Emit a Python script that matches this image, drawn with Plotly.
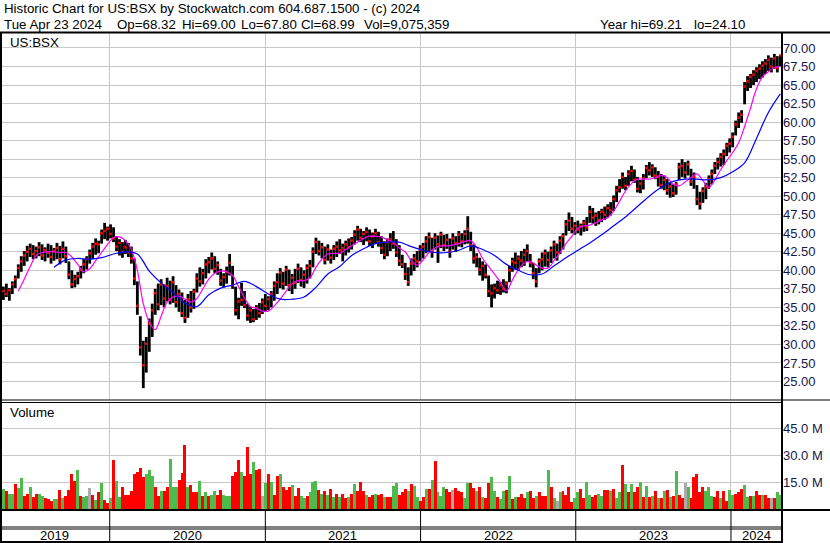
import pandas as pd
import plotly.graph_objects as go

# ---------------- data (weekly) ----------------
high = [
    37.5, 37.8, 38.2, 37.6, 38.5, 39.3, 40.8, 41.9, 42.6, 43.3,
    43.6, 43.4, 43.2, 43.8, 43.5, 43.1, 43.6, 43.4, 43.0, 43.7,
    43.3, 43.9, 43.2, 41.2, 40.0, 39.4, 39.8, 40.6, 41.5, 41.9,
    42.8, 43.7, 44.3, 44.0, 45.5, 46.4, 45.9, 46.2, 45.8, 44.6,
    44.2, 43.8, 44.1, 43.7, 43.2, 41.6, 38.5, 33.8, 30.5, 31.0,
    33.5, 35.5, 37.5, 38.2, 38.8, 38.1, 39.0, 38.6, 39.2, 38.0,
    37.4, 37.0, 36.0, 36.8, 37.2, 37.5, 39.6, 40.4, 40.2, 41.5,
    41.8, 42.4, 41.9, 41.2, 40.2, 39.6, 40.5, 42.2, 40.6, 37.8,
    36.3, 38.3, 37.2, 35.5, 35.1, 34.8, 35.3, 35.6, 36.2, 36.8,
    36.5, 37.2, 38.5, 39.6, 40.3, 39.8, 40.6, 40.1, 39.5, 40.2,
    40.9, 40.4, 40.0, 40.8, 41.4, 43.1, 44.4, 44.0, 43.7, 43.2,
    43.5, 42.8, 43.4, 43.9, 44.2, 43.6, 44.0, 44.3, 44.5, 45.4,
    46.0, 45.6, 45.3, 45.8, 45.5, 45.1, 45.6, 45.2, 44.6, 43.9,
    44.3, 45.0, 45.3, 44.2, 43.4, 42.1, 41.0, 40.4, 41.6, 42.2,
    42.6, 43.4, 43.7, 44.6, 45.1, 44.4, 45.0, 44.7, 45.2, 44.8,
    44.9, 44.3, 45.0, 44.6, 45.3, 45.0, 45.4, 47.3, 45.2, 43.5,
    42.3, 41.7, 41.2, 40.8, 39.3, 38.1, 38.2, 38.6, 38.4, 38.8,
    38.5, 40.6, 41.7, 42.4, 42.0, 42.6, 42.9, 43.5, 42.2, 41.0,
    40.3, 41.6, 42.4, 42.8, 42.5, 43.2, 44.0, 43.6, 44.6, 45.0,
    46.8, 47.8, 47.2, 46.5, 46.7, 46.3, 46.8, 47.2, 48.7, 48.4,
    47.8, 48.0, 48.3, 48.6, 48.9, 49.2, 50.1, 51.4, 52.3, 53.2,
    52.6, 53.5, 54.1, 53.6, 52.6, 52.2, 53.0, 54.2, 54.6, 54.3,
    53.9, 53.4, 53.0, 52.8, 52.3, 51.8, 51.6, 51.9, 54.5, 55.0,
    54.6, 54.8, 53.7, 53.2, 51.5, 50.6, 51.2, 51.8, 52.8, 53.6,
    54.6, 55.2, 55.8, 56.3, 57.2, 57.8, 58.6, 60.2, 61.3, 61.6,
    65.4, 66.2, 66.5, 67.0, 67.4, 67.8, 68.2, 68.5, 69.0, 68.7,
    69.2, 68.9, 69.0,
]
low = [
    35.3, 36.0, 36.4, 35.9, 36.8, 37.6, 38.9, 39.8, 40.6, 41.2,
    41.8, 41.5, 41.6, 41.9, 41.4, 41.2, 41.7, 40.9, 41.3, 41.5,
    40.8, 41.6, 41.0, 38.8, 37.6, 37.7, 38.1, 38.9, 39.6, 40.1,
    40.9, 41.5, 42.1, 42.3, 43.6, 44.2, 44.0, 44.3, 43.8, 42.6,
    42.0, 41.7, 42.2, 41.8, 40.9, 38.0, 34.0, 28.5, 24.1, 26.2,
    29.0, 31.0, 34.0, 34.6, 35.3, 35.0, 35.8, 35.4, 35.6, 35.0,
    34.4, 33.7, 32.9, 33.6, 34.3, 34.8, 37.0, 37.8, 38.1, 38.9,
    39.6, 40.1, 39.6, 39.4, 37.9, 37.7, 38.2, 39.3, 37.5, 33.9,
    33.4, 35.2, 34.9, 33.2, 32.9, 33.0, 33.3, 33.6, 34.1, 34.5,
    34.6, 35.0, 35.9, 36.8, 37.6, 37.4, 37.9, 37.2, 36.8, 37.5,
    38.3, 37.8, 37.6, 38.2, 38.9, 40.4, 42.2, 42.0, 41.6, 40.8,
    41.3, 40.9, 41.4, 41.8, 42.2, 41.2, 42.0, 42.4, 42.8, 43.5,
    44.0, 43.8, 43.4, 43.9, 43.3, 43.0, 43.6, 43.2, 42.2, 41.5,
    41.9, 42.6, 42.9, 41.8, 40.6, 40.3, 38.7, 37.9, 39.3, 39.9,
    40.4, 41.2, 41.6, 42.3, 42.6, 41.7, 42.8, 41.0, 43.0, 42.6,
    42.9, 41.7, 42.8, 42.5, 43.2, 43.1, 43.5, 43.6, 42.6, 40.9,
    40.4, 39.3, 38.6, 38.9, 36.4, 35.0, 36.2, 36.8, 36.7, 37.0,
    36.9, 38.4, 39.8, 40.1, 40.0, 40.4, 40.6, 41.2, 40.4, 38.8,
    37.7, 39.6, 40.0, 40.5, 40.4, 41.0, 41.6, 41.3, 42.2, 42.8,
    44.7, 45.3, 45.0, 44.8, 45.0, 44.7, 45.2, 45.3, 46.4, 46.3,
    46.0, 46.2, 46.5, 46.8, 47.1, 47.4, 48.0, 49.2, 50.5, 51.0,
    50.8, 51.4, 52.0, 51.8, 50.5, 50.4, 50.9, 52.4, 52.8, 52.6,
    52.3, 51.3, 51.0, 50.8, 50.2, 49.8, 49.9, 50.2, 52.2, 52.6,
    52.4, 52.8, 51.4, 51.0, 48.8, 48.2, 49.1, 49.6, 51.0, 51.6,
    53.0, 53.6, 54.0, 54.2, 55.4, 55.9, 56.6, 58.2, 59.2, 59.9,
    62.4, 64.2, 64.6, 65.0, 65.4, 65.8, 66.0, 66.5, 66.9, 66.7,
    67.2, 66.7, 67.5,
]
close = [
    36.4, 37.2, 36.8, 37.3, 38.1, 38.8, 40.3, 41.2, 42.0, 42.5,
    42.9, 42.2, 42.6, 43.1, 42.0, 42.7, 42.4, 41.8, 42.6, 43.0,
    41.5, 42.9, 41.9, 39.4, 38.1, 38.8, 39.2, 40.1, 40.8, 41.5,
    42.3, 43.2, 43.6, 43.5, 45.0, 45.3, 45.6, 44.9, 44.3, 43.2,
    43.7, 42.5, 43.1, 42.4, 41.6, 38.9, 35.2, 29.6, 27.2, 30.1,
    32.8, 34.6, 36.9, 35.4, 38.1, 36.2, 37.9, 36.0, 38.4, 35.7,
    36.8, 34.2, 33.6, 36.1, 35.0, 37.1, 38.9, 38.5, 39.6, 40.8,
    41.1, 41.6, 40.2, 40.7, 38.6, 39.1, 39.8, 41.0, 38.0, 34.6,
    35.8, 36.0, 35.3, 33.9, 34.6, 33.4, 34.9, 34.2, 35.7, 35.2,
    36.1, 36.8, 37.9, 38.4, 39.7, 38.2, 40.1, 38.0, 39.0, 38.3,
    40.2, 38.7, 39.4, 40.3, 40.6, 42.5, 43.8, 42.6, 43.1, 41.4,
    42.8, 41.7, 42.9, 43.2, 42.7, 43.0, 43.5, 43.1, 44.0, 44.8,
    45.5, 44.4, 44.9, 45.2, 43.9, 44.6, 45.0, 43.8, 43.0, 42.1,
    43.8, 44.2, 43.6, 42.4, 41.3, 40.8, 39.5, 38.4, 40.9, 41.6,
    41.2, 42.8, 43.2, 43.9, 44.5, 42.6, 44.4, 43.5, 44.8, 43.4,
    44.1, 42.5, 44.3, 43.7, 44.8, 43.9, 44.9, 45.6, 43.4, 41.6,
    41.8, 40.1, 40.6, 39.4, 37.2, 36.9, 37.6, 37.3, 38.0, 37.5,
    38.2, 40.0, 41.2, 41.0, 41.6, 41.3, 42.1, 42.6, 41.0, 39.6,
    38.5, 41.2, 41.5, 42.3, 41.4, 42.7, 43.5, 42.4, 44.0, 44.6,
    46.2, 46.7, 45.6, 46.0, 45.5, 45.9, 46.4, 45.8, 47.9, 47.1,
    47.4, 46.8, 47.9, 47.5, 48.4, 48.1, 49.6, 50.8, 51.2, 52.6,
    51.4, 53.0, 53.4, 52.2, 51.0, 51.7, 52.4, 53.8, 53.5, 53.9,
    52.8, 52.6, 51.5, 52.2, 50.8, 51.3, 50.4, 51.6, 53.9, 54.1,
    53.2, 54.3, 52.0, 52.6, 49.6, 49.0, 50.7, 51.2, 52.3, 53.0,
    54.1, 54.6, 55.3, 55.7, 56.8, 57.1, 58.0, 59.7, 60.6, 61.0,
    64.8, 65.5, 66.1, 66.4, 66.9, 67.2, 67.6, 67.9, 68.4, 67.5,
    68.6, 67.3, 68.99,
]
volume_m = [
    17, 11, 10, 8.4, 8.7, 14, 12, 17.5, 7.4, 8.7,
    12.5, 6.8, 8.4, 8.7, 7.4, 6.1, 5.5, 4.6, 5.7, 5.5,
    10.8, 6.1, 7.4, 10.8, 19.4, 16, 21.7, 7.4, 6.5, 7.4,
    11.8, 8, 5, 9.7, 14.4, 5, 3.6, 6.1, 27.7, 16,
    6.5, 12.5, 8, 8, 9.9, 19.8, 20.7, 23.2, 17.9, 19.8,
    21.7, 18.8, 12.2, 7.4, 10.3, 10.3, 12.2, 28.3, 12.5, 12.2,
    16.3, 20.3, 35.9, 12.5, 13.7, 9.3, 9.3, 16, 7.4, 9.7,
    7.4, 8, 9.9, 8, 10.6, 8, 7.4, 7.4, 18.8, 20.7,
    27.7, 20.7, 18.8, 34.6, 19.8, 26.6, 21.7, 22.6, 7.4, 14.4,
    19.8, 15, 8, 18.8, 19.4, 12.2, 10.6, 12.2, 13.5, 7.4,
    11.6, 7.4, 6.1, 7.4, 9.3, 15, 16, 10.6, 8.7, 9.9,
    8, 11.2, 6.5, 8.4, 6.5, 8.4, 6.1, 6.8, 8.4, 14,
    10.3, 15, 10.3, 8, 6.8, 8, 8.7, 8, 8.7, 6.8,
    6.8, 6.8, 13.1, 14.4, 8, 9.3, 11.2, 9.9, 14, 13.1,
    6.5, 4.6, 6.5, 11.2, 11.2, 16.3, 26.8, 9.3, 7.4, 12.5,
    11.2, 9.3, 10.6, 11.8, 10.3, 9.3, 6.1, 14.4, 14.8, 11.6,
    9.9, 12.2, 6.5, 6.1, 14.8, 17.9, 10.3, 6.5, 5.5, 9.9,
    10.8, 18.8, 5.5, 6.5, 6.5, 8.4, 6.1, 9.7, 10.3, 6.1,
    7.4, 9.7, 7.4, 7.4, 21.7, 12.5, 6.1, 4.6, 9.5, 10.3,
    8, 12.2, 4.2, 6.1, 9.3, 11.2, 5.9, 15, 8, 6.5,
    8, 8.4, 7.4, 10.6, 10.6, 10.3, 11.2, 6.1, 9.3, 24.5,
    14, 9.3, 14, 9.3, 12.2, 15, 6.5, 13.1, 6.5, 7.4,
    9.9, 6.1, 6.1, 9.9, 10.8, 6.8, 7.4, 21.1, 8, 6.1,
    14.6, 12.2, 6.1, 17.9, 19.4, 9.3, 12.2, 9.9, 12.5, 7.4,
    6.8, 9.9, 6.1, 10.3, 4.6, 10.8, 8, 8.4, 9.3, 11.2,
    13.7, 6.8, 7.4, 7.4, 9.9, 8, 8, 8, 6.1, 6.1,
    6.1, 9.3, 8,
]
# r = down, g = up, n = unchanged
volume_dir = (
    "ngrggrggrr" "grrggrrrgg" "rgrrrrgrgg" "nrgrgrrgrg" "grrrrrrrrg"
    "ggrrgrrggg" "rrrgrrrgrg" "rggrrgggrr" "rgrrrgrrng" "rgrrgrrrgr"
    "rggrgggrgr" "grgrgrrgrg" "rrrgrrgrrg" "rrggrrrgrg" "grrgrgrggg"
    "rrnrrrggrr" "grgrrggrgg" "rgrgrrrgrr" "grrrgrgngr" "rrrggrrggr"
    "rggrrgrggr" "grgrrgrgrg" "rgrgrgrgrr" "ngrrrrrggg" "rrgrrggrrr"
    "ggrgrrgrrn" "rgg"
)
# moving averages (magenta: every 2nd week from week 6; blue: every 4th week from week 18)
ma_fast = [
    37.2, 38.8, 40.5, 42.0, 42.4, 42.5, 42.5, 42.4, 42.4, 41.8,
    40.8, 39.8, 40.2, 41.3, 42.4, 43.5, 44.4, 44.5, 44.0, 42.8,
    40.0, 35.5, 33.0, 32.0, 33.8, 35.7, 36.4, 36.5, 36.1, 35.7,
    36.2, 37.5, 38.8, 39.6, 39.9, 39.8, 39.3, 37.8, 36.3, 35.1,
    34.9, 34.5, 34.5, 35.2, 36.1, 37.2, 38.2, 38.6, 38.6, 39.0,
    40.4, 41.5, 42.2, 42.3, 42.3, 42.8, 43.3, 43.8, 44.3, 44.6,
    44.6, 44.5, 44.1, 43.8, 43.0, 42.5, 41.3, 40.7, 41.4, 42.4,
    43.0, 43.3, 43.3, 43.4, 43.6, 43.9, 44.0, 43.1, 41.6, 40.5,
    39.5, 38.4, 37.2, 38.7, 40.1, 41.0, 41.2, 40.7, 40.3, 40.3,
    41.3, 42.4, 43.6, 44.6, 45.7, 46.0, 46.1, 46.4, 46.8, 47.1,
    48.0, 49.3, 50.7, 51.7, 52.3, 52.3, 52.3, 52.5, 52.8, 52.5,
    51.6, 51.4, 51.9, 52.5, 53.0, 52.1, 51.2, 52.2, 53.6, 54.8,
    55.9, 57.2, 59.4, 61.9, 64.5, 66.1, 66.8, 67.4, 67.5,
]
ma_slow = [
    40.4, 41.4, 41.6, 41.5, 41.7, 42.2, 42.5, 42.2, 39.9, 38.3,
    37.0, 35.6, 35.1, 36.7, 37.6, 38.0, 38.5, 37.8, 36.8, 36.1,
    36.1, 36.4, 37.7, 39.5, 40.5, 42.0, 42.9, 43.6, 43.8, 43.8,
    43.2, 42.7, 42.4, 42.4, 42.7, 43.3, 42.8, 42.0, 40.8, 40.0,
    39.4, 39.5, 40.6, 41.7, 42.7, 43.7, 44.8, 46.0, 47.2, 48.6,
    50.0, 51.2, 52.0, 52.3, 52.3, 52.2, 52.5, 53.3, 54.5, 57.8,
    61.3, 63.8,
]
ma_fast_first, ma_fast_step = 6, 2
ma_slow_first, ma_slow_step = 18, 4

price_ticks = [25.0, 27.5, 30.0, 32.5, 35.0, 37.5, 40.0, 42.5, 45.0, 47.5,
               50.0, 52.5, 55.0, 57.5, 60.0, 62.5, 65.0, 67.5, 70.0]
vol_ticks = [15, 30, 45]
vol_tick_text = ["15.0 M", "30.0 M", "45.0 M"]
years = ["2019", "2020", "2021", "2022", "2023", "2024"]

title_line1 = "Historic Chart for US:BSX by Stockwatch.com 604.687.1500 - (c) 2024"
quote_fields = ["Tue Apr 23 2024", "Op=68.32", "Hi=69.00", "Lo=67.80", "Cl=68.99",
                "Vol=9,075,359", "Year hi=69.21", "lo=24.10"]

# ---------------- geometry / styles ----------------
W, H = 830, 543
FONT = "Liberation Sans, Arial, sans-serif"
GRID = "#C8C8C8"
LABEL = "#16164a"
RED, GREEN, GRAY = "#FF0000", "#4CBB4C", "#AAAAAA"
quote_field_x = [2, 115, 180, 239, 299, 362, 598, 692]


def px(x):
    return x / W


def py(y):
    return 1 - y / H


weeks = pd.date_range("2019-04-19", periods=len(high), freq="7D")
x_start, x_end = pd.Timestamp("2019-04-18"), pd.Timestamp("2024-04-30")
year_starts = [pd.Timestamp(f"{y}-01-01") for y in years[1:]]

fig = go.Figure()

# price bars (high-low)
bx, by = [], []
for d, h, l in zip(weeks, high, low):
    bx += [d, d, None]
    by += [l, h, None]
fig.add_trace(go.Scatter(x=bx, y=by, mode="lines", line=dict(color="black", width=2.8),
                         hoverinfo="skip", xaxis="x", yaxis="y"))
# close ticks
fig.add_trace(go.Scatter(x=weeks, y=close, mode="markers",
                         marker=dict(symbol="square", size=2.5, color=RED, line=dict(width=0)),
                         hoverinfo="skip", xaxis="x", yaxis="y"))
# moving averages
fig.add_trace(go.Scatter(x=weeks[ma_fast_first::ma_fast_step][:len(ma_fast)], y=ma_fast,
                         mode="lines", line=dict(color="#FF00FF", width=1.2, shape="spline"),
                         hoverinfo="skip", xaxis="x", yaxis="y"))
fig.add_trace(go.Scatter(x=weeks[ma_slow_first::ma_slow_step][:len(ma_slow)], y=ma_slow,
                         mode="lines", line=dict(color="#0000FF", width=1.2, shape="spline"),
                         hoverinfo="skip", xaxis="x", yaxis="y"))
# volume
cmap = {"r": RED, "g": GREEN, "n": GRAY}
fig.add_trace(go.Bar(x=weeks, y=volume_m, marker=dict(color=[cmap[c] for c in volume_dir], line=dict(width=0)),
                     hoverinfo="skip", xaxis="x2", yaxis="y2"))

axis_common = dict(type="date", range=[x_start, x_end], tickvals=year_starts, showticklabels=False,
                   showgrid=True, gridcolor=GRID, gridwidth=1, zeroline=False, showline=False,
                   ticks="", fixedrange=True, domain=[0, px(782)])
fig.update_layout(
    width=W, height=H, margin=dict(l=0, r=0, t=0, b=0),
    paper_bgcolor="white", plot_bgcolor="white", showlegend=False, bargap=0,
    font=dict(family=FONT, size=13, color="black"),
    xaxis=dict(anchor="y", **axis_common),
    xaxis2=dict(anchor="y2", **axis_common),
    yaxis=dict(domain=[py(400), py(33)], range=[22.5, 72.02], side="right", anchor="x",
               tickvals=price_ticks, ticktext=[f"{v:.2f}" for v in price_ticks],
               showgrid=True, gridcolor=GRID, gridwidth=1, zeroline=False, ticks="",
               tickfont=dict(family=FONT, size=13, color=LABEL), fixedrange=True),
    yaxis2=dict(domain=[py(509), py(403)], range=[0, 59.5], side="right", anchor="x2",
                tickvals=vol_ticks, ticktext=vol_tick_text,
                showgrid=True, gridcolor=GRID, gridwidth=1, zeroline=False, ticks="",
                tickfont=dict(family=FONT, size=13, color=LABEL), fixedrange=True),
)

# frame lines
shapes = []


def hline(y, x0, x1, w):
    shapes.append(dict(type="line", xref="paper", yref="paper", x0=px(x0), x1=px(x1),
                       y0=py(y), y1=py(y), line=dict(color="black", width=w)))


def vline(x, y0, y1, w):
    shapes.append(dict(type="line", xref="paper", yref="paper", x0=px(x), x1=px(x),
                       y0=py(y0), y1=py(y1), line=dict(color="black", width=w)))


hline(32.5, 0, 830, 2)
vline(1, 32, 543, 2)
vline(782, 32, 543, 2)
hline(400, 0, 830, 1)
hline(402.5, 0, 782, 1)
hline(510, 0, 830, 2)
hline(527, 0, 782, 1)
hline(529, 0, 782, 1)
hline(542, 0, 782, 2)
for d in year_starts:
    shapes.append(dict(type="line", xref="x", yref="paper", x0=d, x1=d, y0=py(511), y1=py(542),
                       line=dict(color="black", width=1)))
fig.update_layout(shapes=shapes)

# texts
ann = [dict(text=title_line1, x=px(2), y=py(9))]
for t, xx in zip(quote_fields, quote_field_x):
    ann.append(dict(text=t, x=px(xx), y=py(24)))
ann += [
    dict(text="US:BSX", x=px(8), y=py(42)),
    dict(text="Volume", x=px(8), y=py(413)),
]
annotations = [dict(xref="paper", yref="paper", xanchor="left", yanchor="middle", showarrow=False,
                    font=dict(family=FONT, size=13.3, color="black"), **a) for a in ann]
bounds = [x_start] + year_starts + [x_end]
for i, y in enumerate(years):
    mid = bounds[i] + (bounds[i + 1] - bounds[i]) / 2
    annotations.append(dict(text=y, xref="x", yref="paper", x=mid, y=py(535), xanchor="center",
                            yanchor="middle", showarrow=False, font=dict(family=FONT, size=13, color="black")))
fig.update_layout(annotations=annotations)

fig.write_html("out.html", config={"displayModeBar": False},
               post_script="document.body.style.margin='0';")
